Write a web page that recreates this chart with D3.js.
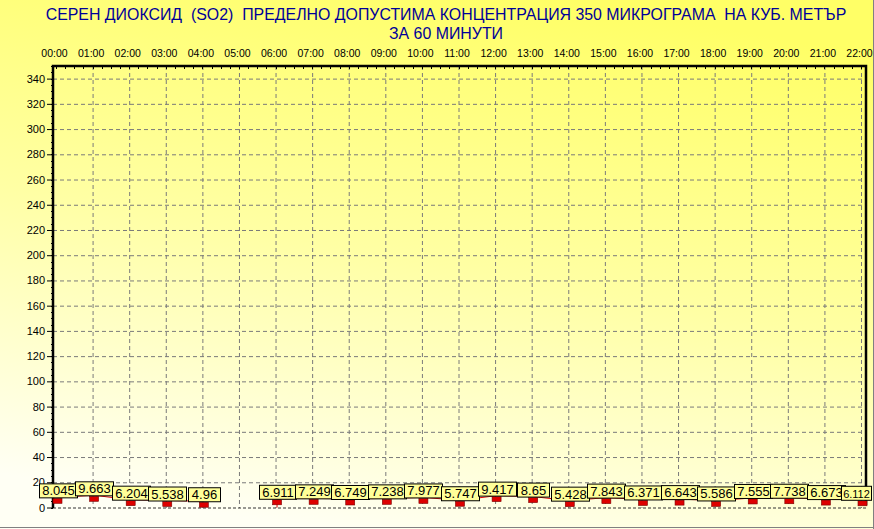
<!DOCTYPE html>
<html>
<head>
<meta charset="utf-8">
<script src="https://cdnjs.cloudflare.com/ajax/libs/d3/7.8.5/d3.min.js"></script>
<style>
  body { margin: 0; padding: 0; overflow: hidden; }
  svg { display: block; font-family: Arial, "Liberation Sans", sans-serif; }
  .title { fill: #000099; font-size: 15.9px; white-space: pre; }
  .axis text { fill: #000; font-size: 11px; }
  .axis .domain { display: none; }
  .grid line { stroke: #7a7a7a; stroke-dasharray: 4,3; }
  .grid .domain { display: none; }
  .lbl text { font-size: 13px; fill: #000; }
</style>
</head>
<body>
<script>
  const hours = ["00:00", "01:00", "02:00", "03:00", "04:00", "05:00", "06:00", "07:00",
    "08:00", "09:00", "10:00", "11:00", "12:00", "13:00", "14:00", "15:00",
    "16:00", "17:00", "18:00", "19:00", "20:00", "21:00", "22:00"];
  const values = [8.045, 9.663, 6.204, 5.538, 4.96, null, 6.911, 7.249,
    6.749, 7.238, 7.977, 5.747, 9.417, 8.65, 5.428, 7.843,
    6.371, 6.643, 5.586, 7.555, 7.738, 6.673, 6.112];
  const yTicks = [0, 20, 40, 60, 80, 100, 120, 140, 160, 180, 200, 220, 240, 260, 280, 300, 320, 340];
  const titleLines = ["СЕРЕН ДИОКСИД  (SO2)  ПРЕДЕЛНО ДОПУСТИМА КОНЦЕНТРАЦИЯ 350 МИКРОГРАМА  НА КУБ. МЕТЪР",
    "ЗА 60 МИНУТИ"];

  const width = 874;
  const height = 529;
  const plot = { left: 53, right: 866, top: 66, bottom: 508 };

  const svg = d3.select("body").append("svg")
    .attr("width", width)
    .attr("height", height);

  // background gradient
  const defs = svg.append("defs");
  const grad = defs.append("linearGradient")
    .attr("id", "bg")
    .attr("x1", "65%").attr("y1", "0%")
    .attr("x2", "35%").attr("y2", "100%");
  grad.append("stop").attr("offset", "0%").attr("stop-color", "#ffff66");
  grad.append("stop").attr("offset", "50%").attr("stop-color", "#ffffa4");
  grad.append("stop").attr("offset", "100%").attr("stop-color", "#fffff4");

  svg.append("rect")
    .attr("width", width).attr("height", height)
    .attr("fill", "url(#bg)");

  // frame
  svg.append("line").attr("x1", width - 0.5).attr("x2", width - 0.5)
    .attr("y1", 0).attr("y2", height).attr("stroke", "#808080");
  svg.append("line").attr("x1", 0).attr("x2", width)
    .attr("y1", height - 1.5).attr("y2", height - 1.5).attr("stroke", "#808080");

  const x = d3.scaleLinear().domain([0, 22]).range([56, 861]);
  const y = d3.scaleLinear().domain([0, 350]).range([507.5, plot.top]);

  // title
  svg.selectAll(".title")
    .data(titleLines)
    .enter()
    .append("text")
    .attr("class", "title")
    .attr("x", 446)
    .attr("y", (d, i) => 20 + i * 19)
    .attr("text-anchor", "middle")
    .text((d) => d);

  // gridlines
  svg.append("g")
    .attr("class", "grid")
    .attr("transform", "translate(0," + plot.top + ")")
    .call(d3.axisBottom(x).tickValues(d3.range(1, hours.length)).tickSize(plot.bottom - plot.top).tickFormat(""));

  svg.append("g")
    .attr("class", "grid")
    .attr("transform", "translate(" + plot.left + ",0)")
    .call(d3.axisRight(y).tickValues(yTicks.slice(1)).tickSize(plot.right - plot.left).tickFormat(""));

  // bottom dashed line
  svg.append("line")
    .attr("x1", plot.left).attr("x2", plot.right)
    .attr("y1", y(0) + 0.5).attr("y2", y(0) + 0.5)
    .attr("stroke", "#333").attr("stroke-dasharray", "3,2");

  // minor ticks
  svg.append("g")
    .selectAll("line")
    .data(d3.range(0, 351, 5))
    .enter()
    .append("line")
    .attr("x1", plot.left - 2).attr("x2", plot.left)
    .attr("y1", (d) => Math.round(y(d)) + 0.5)
    .attr("y2", (d) => Math.round(y(d)) + 0.5)
    .attr("stroke", "#000");

  svg.append("g")
    .selectAll("line")
    .data(d3.range(0, 22.01, 0.25))
    .enter()
    .append("line")
    .attr("x1", (d) => Math.round(x(d)) + 0.5)
    .attr("x2", (d) => Math.round(x(d)) + 0.5)
    .attr("y1", plot.top).attr("y2", plot.top + 3)
    .attr("stroke", "#000");

  // y axis
  const yAxis = svg.append("g")
    .attr("class", "axis")
    .attr("transform", "translate(" + plot.left + ",0)")
    .call(d3.axisLeft(y).tickValues(yTicks).tickSize(6).tickPadding(2));
  yAxis.selectAll(".tick line").attr("stroke", "#000");

  // x axis labels
  svg.append("g")
    .attr("class", "axis")
    .attr("transform", "translate(-2," + 57 + ")")
    .call(d3.axisTop(x).tickValues(d3.range(0, hours.length)).tickSize(0).tickPadding(0)
      .tickFormat((d) => hours[d]))
    .selectAll("text")
    .style("font-size", "10.5px");

  // plot frame
  svg.append("path")
    .attr("d", "M" + plot.left + "," + plot.bottom + "V" + plot.top + "H" + plot.right + "V" + (plot.bottom - 3))
    .attr("fill", "none")
    .attr("stroke", "#000")
    .attr("stroke-width", 2.5);

  // series line
  const pts = values.map((v, i) => ({ i: i, v: v }));
  const line = d3.line()
    .defined((d) => d.v !== null)
    .x((d) => x(d.i) + 1.5)
    .y((d) => y(d.v));

  svg.append("path")
    .datum(pts)
    .attr("d", line)
    .attr("fill", "none")
    .attr("stroke", "#e00000")
    .attr("stroke-width", 1);

  svg.append("line")
    .attr("x1", x(6) + 1.5).attr("x2", x(6) + 1.5)
    .attr("y1", y(values[6])).attr("y2", y(0))
    .attr("stroke", "#e00000");

  const valid = pts.filter((d) => d.v !== null);

  // markers
  svg.append("g")
    .selectAll("rect")
    .data(valid)
    .enter()
    .append("rect")
    .attr("x", (d) => x(d.i) + 1.5 - 4.5)
    .attr("y", (d) => y(d.v) + 1)
    .attr("width", 9)
    .attr("height", 5)
    .attr("fill", "#dd0000")
    .attr("stroke", "#7a0000")
    .attr("stroke-width", 0.6);

  // value labels
  const lbl = svg.append("g")
    .attr("class", "lbl")
    .selectAll("g")
    .data(valid)
    .enter()
    .append("g");

  lbl.append("rect")
    .attr("fill", "#ffff99")
    .attr("stroke", "#000")
    .attr("stroke-width", 1);

  lbl.append("text")
    .attr("text-anchor", "middle")
    .attr("y", -3)
    .text((d) => String(d.v));

  lbl.each(function (d) {
    const g = d3.select(this);
    const t = g.select("text");
    let tw = t.node().getComputedTextLength();
    const w = Math.round(Math.max(tw + 5, 32));
    const cx = x(d.i) + 1.5;
    let left = Math.round(cx - w / 2);
    let right = left + w;
    if (right > width - 3) {
      right = width - 3;
      left = Math.min(left, right - 30);
    }
    g.attr("transform", "translate(0," + (y(d.v) + 1) + ")");
    g.select("rect")
      .attr("x", left + 0.5)
      .attr("y", -14.5)
      .attr("width", right - left)
      .attr("height", 14);
    t.attr("x", (left + right) / 2 + 0.5);
    let fs = 13;
    while (tw > right - left - 3 && fs > 9) {
      fs -= 0.5;
      t.style("font-size", fs + "px");
      tw = t.node().getComputedTextLength();
    }
  });
</script>
</body>
</html>
